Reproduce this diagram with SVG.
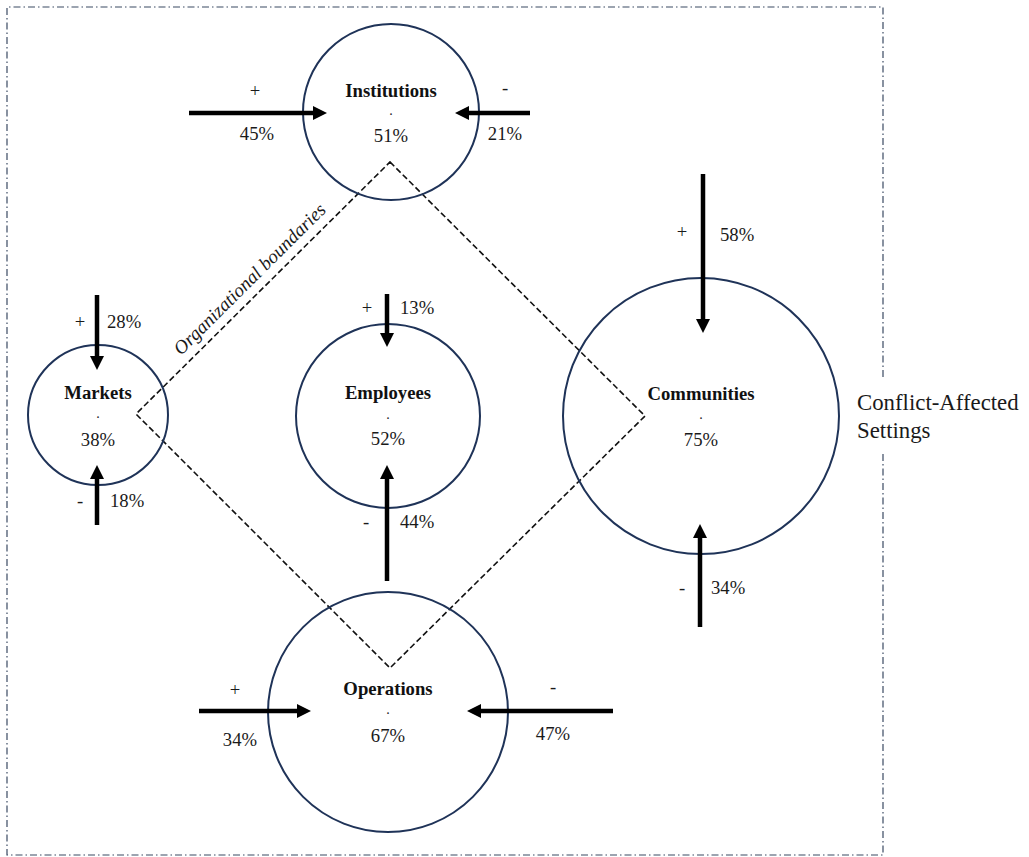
<svg xmlns="http://www.w3.org/2000/svg" width="1029" height="857" viewBox="0 0 1029 857">
<style>
.bg{fill:#ffffff}
.frame{fill:none;stroke:#3b4a63;stroke-width:1.2;stroke-dasharray:7 3 1.5 3}
.node{fill:none;stroke:#1f3358;stroke-width:2}
.org{fill:none;stroke:#111;stroke-width:1.6;stroke-dasharray:6 3}
.arr{stroke:#000;stroke-width:4.5;fill:none;marker-end:url(#ah)}
.t{font-family:"Liberation Serif","Times New Roman",serif;font-size:18.7px;fill:#1a1a1a;text-anchor:middle}
.b{font-weight:bold;fill:#111}
.s{text-anchor:start}
.d{font-size:14px}
.it{font-family:"Liberation Serif","Times New Roman",serif;font-style:italic;font-size:19px;fill:#1a1a1a}
.big{font-family:"Liberation Serif","Times New Roman",serif;font-size:22.8px;fill:#1a1a1a}
</style>
<defs>
<marker id="ah" viewBox="0 0 14 14" markerWidth="14" markerHeight="14" refX="2" refY="7" orient="auto" markerUnits="userSpaceOnUse">
<path d="M0,0 L14,7 L0,14 z" fill="#000"/>
</marker>
</defs>
<rect class="bg" x="0" y="0" width="1029" height="857"/>
<path class="frame" d="M883,377 V7 H7 V855 H883 V453"/>
<g id="boundaries">
<path class="org" d="M390,162 L645,416 L390,668 L136,414 Z"/>
<text class="it" x="181" y="356" transform="rotate(-44.8 181 356)">Organizational boundaries</text>
</g>
<g id="institutions">
<circle class="node" cx="391" cy="112" r="88"/>
<text class="t b" x="391" y="97">Institutions</text>
<text class="t d" x="391" y="115">.</text>
<text class="t" x="391" y="142">51%</text>
</g>
<g id="markets">
<circle class="node" cx="98" cy="415" r="70"/>
<text class="t b" x="98" y="399">Markets</text>
<text class="t d" x="98" y="418">.</text>
<text class="t" x="98" y="446">38%</text>
</g>
<g id="employees">
<circle class="node" cx="388" cy="416" r="92"/>
<text class="t b" x="388" y="399">Employees</text>
<text class="t d" x="388" y="419">.</text>
<text class="t" x="388" y="445">52%</text>
</g>
<g id="communities">
<circle class="node" cx="701" cy="416" r="138"/>
<text class="t b" x="701" y="400">Communities</text>
<text class="t d" x="701" y="419">.</text>
<text class="t" x="701" y="446">75%</text>
</g>
<g id="operations">
<circle class="node" cx="388" cy="712" r="120"/>
<text class="t b" x="388" y="695">Operations</text>
<text class="t d" x="388" y="714">.</text>
<text class="t" x="388" y="742">67%</text>
</g>
<g id="setting">
<text class="big" x="857" y="410">Conflict-Affected</text>
<text class="big" x="857" y="438">Settings</text>
</g>
<g id="connectors">
<line class="arr" x1="189" y1="113" x2="315" y2="113"/>
<line class="arr" x1="530" y1="113" x2="467" y2="113"/>
<line class="arr" x1="97" y1="295" x2="97" y2="358"/>
<line class="arr" x1="97" y1="525" x2="97" y2="477"/>
<line class="arr" x1="387" y1="294" x2="387" y2="335"/>
<line class="arr" x1="387" y1="581" x2="387" y2="477"/>
<line class="arr" x1="703" y1="174" x2="703" y2="321"/>
<line class="arr" x1="700" y1="627" x2="700" y2="536"/>
<line class="arr" x1="199" y1="711" x2="299" y2="711"/>
<line class="arr" x1="613" y1="711" x2="479" y2="711"/>
</g>
<g id="labels">
<text class="t" x="255" y="97">+</text>
<text class="t" x="257" y="140">45%</text>
<text class="t" x="505" y="94">-</text>
<text class="t" x="505" y="140">21%</text>
<text class="t" x="80" y="328">+</text>
<text class="t s" x="107" y="328">28%</text>
<text class="t" x="80" y="507">-</text>
<text class="t s" x="110" y="507">18%</text>
<text class="t" x="367" y="314">+</text>
<text class="t s" x="400" y="314">13%</text>
<text class="t" x="366" y="528">-</text>
<text class="t s" x="400" y="528">44%</text>
<text class="t" x="682" y="238">+</text>
<text class="t s" x="720" y="241">58%</text>
<text class="t" x="682" y="594">-</text>
<text class="t s" x="711" y="594">34%</text>
<text class="t" x="235" y="696">+</text>
<text class="t" x="240" y="746">34%</text>
<text class="t" x="553" y="693">-</text>
<text class="t" x="553" y="740">47%</text>
</g>
</svg>
